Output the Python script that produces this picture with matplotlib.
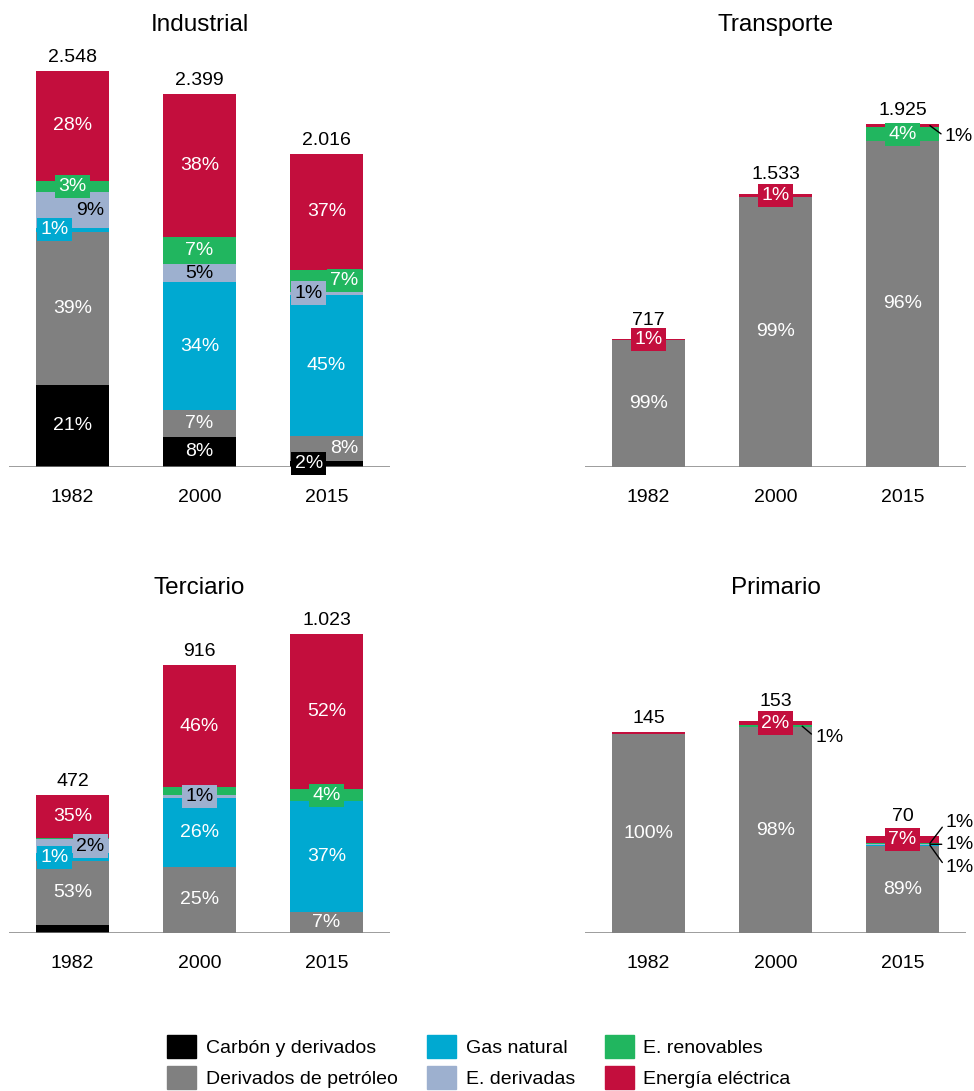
import matplotlib.pyplot as plt
from matplotlib.patches import Patch

plt.rcParams['font.family'] = ['Liberation Sans', 'DejaVu Sans']

# --- data ---
categories = ['Carbón y derivados', 'Derivados de petróleo', 'Gas natural',
              'E. derivadas', 'E. renovables', 'Energía eléctrica']
colors = ['#000000', '#808080', '#00A9D1', '#9DB0CF', '#21B65F', '#C30E3D']
years = ['1982', '2000', '2015']
sectors = ['Industrial', 'Transporte', 'Terciario', 'Primario']

industrial_total = [2548, 2399, 2016]
transporte_total = [717, 1533, 1925]
terciario_total = [472, 916, 1023]
primario_total = [145, 153, 70]

# share of each source in the bar (%), one row per year, columns as categories
industrial_share = [[21, 39, 1, 9, 3, 28],
                    [8, 7, 34, 5, 7, 38],
                    [2, 8, 45, 1, 7, 37]]
transporte_share = [[0, 99, 0, 0, 0, 1],
                    [0, 99, 0, 0, 0, 1],
                    [0, 96, 0, 0, 4, 1]]
terciario_share = [[6, 46, 6, 10, 1, 31],
                   [0, 25, 26, 1, 3, 46],
                   [0, 7, 37, 0, 4, 52]]
primario_share = [[0, 99, 0, 0, 0, 1],
                  [0, 97, 0, 0, 1, 2],
                  [0, 89, 1, 1, 1, 7]]

# labels printed on the chart
industrial_labels = [['21%', '39%', '1%', '9%', '3%', '28%'],
                     ['8%', '7%', '34%', '5%', '7%', '38%'],
                     ['2%', '8%', '45%', '1%', '7%', '37%']]
transporte_labels = [['', '99%', '', '', '', '1%'],
                     ['', '99%', '', '', '', '1%'],
                     ['', '96%', '', '', '4%', '1%']]
terciario_labels = [['', '53%', '1%', '2%', '', '35%'],
                    ['', '25%', '26%', '1%', '', '46%'],
                    ['', '7%', '37%', '', '4%', '52%']]
primario_labels = [['', '100%', '', '', '', ''],
                   ['', '98%', '', '', '1%', '2%'],
                   ['', '89%', '1%', '1%', '1%', '7%']]

totals = [industrial_total, transporte_total, terciario_total, primario_total]
shares = [industrial_share, transporte_share, terciario_share, primario_share]
labels = [industrial_labels, transporte_labels, terciario_labels, primario_labels]

# --- layout ---
W, H = 974, 1091
ymax = {'Industrial': 2747, 'Transporte': 2396, 'Terciario': 1461, 'Primario': 308}
left_px = {'Industrial': 9, 'Transporte': 585, 'Terciario': 9, 'Primario': 585}
base_px = {'Industrial': 467, 'Transporte': 467, 'Terciario': 933, 'Primario': 933}
title_px = {'Industrial': 31, 'Transporte': 31, 'Terciario': 594, 'Primario': 594}
ax_w, ax_h = 381, 427
bar_w = 0.575

# special label placement: 'box' = centred with box, 'left'/'right' = boxed at side,
# tuple = leader line (anchor dx data, text offset in points)
place = {
    ('Industrial', 0, 2): 'left', ('Industrial', 0, 3): 'right', ('Industrial', 0, 4): 'box',
    ('Industrial', 2, 0): 'left', ('Industrial', 2, 1): 'right',
    ('Industrial', 2, 3): 'left', ('Industrial', 2, 4): 'right',
    ('Transporte', 0, 5): 'box', ('Transporte', 1, 5): 'box', ('Transporte', 2, 4): 'box',
    ('Transporte', 2, 5): (0.216, 10.8, -8),
    ('Terciario', 0, 2): 'left', ('Terciario', 0, 3): 'right',
    ('Terciario', 1, 3): 'box', ('Terciario', 2, 4): 'box',
    ('Primario', 1, 5): 'box', ('Primario', 1, 4): (0.21, 9.4, -8),
    ('Primario', 2, 5): 'box',
    ('Primario', 2, 4): (0.216, 11.5, 15),
    ('Primario', 2, 3): (0.216, 11.5, 0),
    ('Primario', 2, 2): (0.216, 11.5, -16),
}

fig = plt.figure(figsize=(W / 100, H / 100), dpi=100)

for s, name in enumerate(sectors):
    ax = fig.add_axes([left_px[name] / W, (H - base_px[name]) / H, ax_w / W, ax_h / H])
    ax.set_xlim(-0.5, 2.5)
    ax.set_ylim(0, ymax[name])
    for i in range(3):
        row = shares[s][i]
        tot = totals[s][i]
        bottom = 0
        top_boxed = False
        for c in range(len(categories)):
            seg = tot * row[c] / sum(row)
            if seg > 0:
                ax.bar(i, seg, bottom=bottom, width=bar_w, color=colors[c], linewidth=0, zorder=2)
            txt = labels[s][i][c]
            if txt:
                mode = place.get((name, i, c), 'center')
                yc = bottom + seg / 2
                tcol = 'black' if c == 3 else 'white'
                if isinstance(mode, tuple):
                    dx, ox, oy = mode
                    ax.annotate(txt, xy=(i + dx, yc), xytext=(ox, oy), textcoords='offset points',
                                ha='left', va='center', fontsize=14, color='black', zorder=5,
                                annotation_clip=False,
                                arrowprops=dict(arrowstyle='-', color='black', lw=1,
                                                shrinkA=1, shrinkB=0, relpos=(0, 0.5)))
                else:
                    x = i + {'center': 0, 'box': 0, 'left': -0.14, 'right': 0.14}[mode]
                    bbox = None
                    if mode != 'center':
                        bbox = dict(boxstyle='square,pad=0.16', fc=colors[c], ec='none')
                        if c == len(categories) - 1:
                            top_boxed = True
                    ax.text(x, yc, txt, ha='center', va='center', fontsize=14, color=tcol,
                            bbox=bbox, zorder=5)
            bottom += seg
        off = 10.5 if top_boxed else 6.5
        ax.annotate(f'{tot:,}'.replace(',', '.'), xy=(i, tot), xytext=(0, off),
                    textcoords='offset points', ha='center', va='baseline', fontsize=14)
    ax.axhline(0, color='#808080', lw=1.8, zorder=3)
    ax.set_xticks(range(3), years)
    ax.tick_params(axis='x', length=0, pad=16, labelsize=14)
    ax.set_yticks([])
    for sp in ax.spines.values():
        sp.set_visible(False)
    fig.text((left_px[name] + ax_w / 2) / W, 1 - title_px[name] / H, name,
             ha='center', va='baseline', fontsize=17.5)

handles = [Patch(color=colors[c], label=categories[c]) for c in range(len(categories))]
fig.legend(handles=handles, loc='center', bbox_to_anchor=(479 / W, 1 - 1062 / H), ncol=3,
           frameon=False, fontsize=14, handlelength=1.5, handleheight=1.4,
           handletextpad=0.5, columnspacing=1.5, labelspacing=0.45)

fig.savefig('out.png', dpi=100)
